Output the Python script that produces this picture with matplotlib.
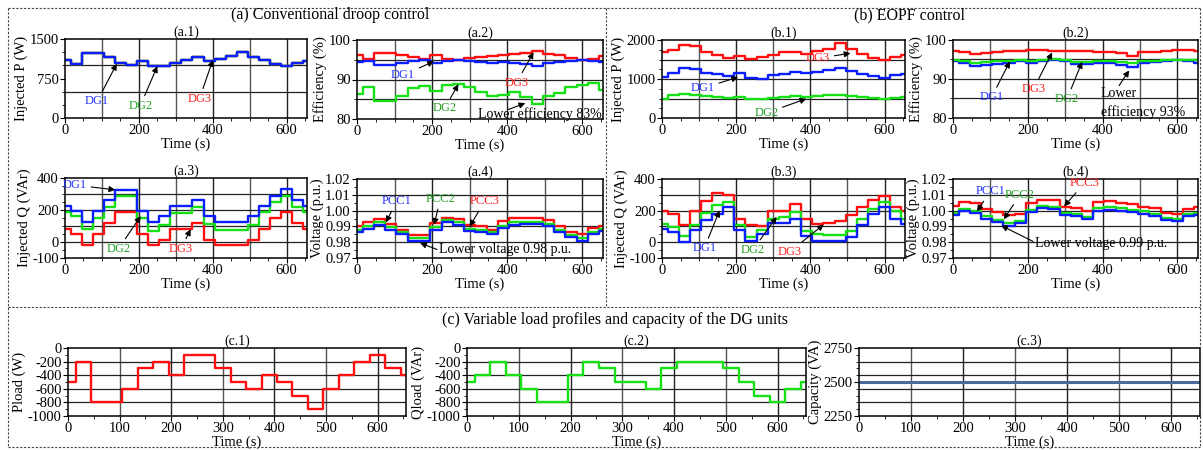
import matplotlib.pyplot as plt
from matplotlib.lines import Line2D

plt.rcParams['font.family'] = ['Liberation Serif', 'DejaVu Serif']
plt.rcParams['font.size'] = 10
plt.rcParams['axes.unicode_minus'] = False

# breakpoints of the step profiles (s)
t = [0, 15, 45, 75, 105, 135, 165, 195, 225, 255, 285, 315, 345, 375,
     405, 435, 465, 495, 525, 555, 585, 615, 645, 660]

# (a) conventional droop control
p_a_dg = [1100, 1030, 1230, 1230, 1150, 1050, 1010, 1080, 980, 980, 1050, 1110,
          1150, 1090, 1120, 1180, 1250, 1150, 1100, 1020, 980, 1050, 1090]
eff_a_dg1 = [94.5, 94.8, 93.6, 93.6, 94.2, 94.7, 95.0, 94.3, 94.8, 95.0, 94.8, 94.5,
             94.3, 94.5, 94.3, 94.0, 93.5, 94.3, 94.5, 94.8, 95.0, 94.8, 94.5]
eff_a_dg2 = [86.4, 88.2, 84.6, 84.6, 85.9, 87.8, 88.3, 87.1, 88.7, 88.8, 88.0, 86.8,
             85.8, 86.0, 86.8, 85.5, 83.8, 85.8, 86.5, 88.0, 88.5, 89.0, 87.3]
eff_a_dg3 = [96.3, 95.3, 96.8, 96.8, 96.3, 95.6, 95.2, 96.1, 95.2, 95.0, 95.5, 95.8,
             96.0, 96.3, 96.5, 96.8, 97.1, 96.5, 96.2, 95.5, 95.0, 95.2, 96.0]
q_a_dg1 = [225, 195, 125, 195, 260, 325, 325, 195, 125, 160, 225, 225,
           260, 160, 125, 125, 125, 160, 225, 290, 330, 260, 225]
q_a_dg2 = [185, 160, 80, 150, 220, 290, 290, 150, 70, 105, 180, 180,
           220, 110, 75, 75, 75, 105, 185, 250, 290, 220, 185]
q_a_dg3 = [80, 50, -20, 50, 120, 190, 190, 50, -20, 15, 80, 80,
           120, 15, -20, -20, -20, 15, 80, 150, 190, 120, 80]
v_a_pcc1 = [0.9865, 0.9885, 0.991, 0.988, 0.985, 0.981, 0.981, 0.988, 0.9925, 0.991, 0.987, 0.9865,
            0.985, 0.989, 0.991, 0.9915, 0.9915, 0.990, 0.9865, 0.983, 0.981, 0.985, 0.987]
v_a_pcc2 = [0.988, 0.990, 0.9925, 0.9895, 0.9865, 0.9825, 0.9825, 0.9895, 0.994, 0.9925, 0.9885, 0.988,
            0.9865, 0.9905, 0.9925, 0.993, 0.993, 0.9915, 0.988, 0.9845, 0.9825, 0.9865, 0.9885]
v_a_pcc3 = [0.990, 0.9925, 0.9945, 0.9915, 0.988, 0.9845, 0.9845, 0.992, 0.9955, 0.9945, 0.991, 0.9905,
            0.988, 0.9935, 0.9955, 0.9955, 0.9955, 0.994, 0.990, 0.9865, 0.985, 0.989, 0.990]

# (b) EOPF control
p_b_dg1 = [1050, 1150, 1270, 1250, 1150, 1120, 1080, 1150, 1030, 1000, 1100, 1130,
           1180, 1150, 1180, 1220, 1280, 1200, 1120, 1080, 1030, 1100, 1130]
p_b_dg2 = [500, 580, 620, 600, 560, 540, 520, 550, 500, 500, 520, 530,
           560, 540, 560, 580, 600, 560, 540, 520, 500, 520, 530]
p_b_dg3 = [1700, 1750, 1870, 1850, 1700, 1620, 1530, 1600, 1520, 1560, 1620, 1680,
           1700, 1650, 1720, 1780, 1920, 1760, 1650, 1550, 1480, 1560, 1620]
eff_b_dg1 = [94.7, 94.2, 93.3, 93.5, 93.8, 94.2, 94.5, 94.0, 94.6, 94.8, 94.5, 93.9,
             93.8, 94.0, 94.0, 93.5, 93.0, 94.0, 94.3, 94.6, 94.8, 94.5, 94.2]
eff_b_dg2 = [94.9, 94.5, 94.0, 94.3, 94.5, 94.6, 94.8, 94.5, 94.9, 95.0, 94.8, 94.4,
             94.4, 94.6, 94.6, 94.3, 94.0, 94.6, 94.7, 94.8, 94.9, 94.9, 94.8]
eff_b_dg3 = [97.3, 97.0, 96.5, 96.6, 97.0, 97.3, 97.3, 97.4, 97.4, 97.3, 97.3, 97.2,
             97.1, 97.0, 96.9, 96.6, 96.0, 96.8, 97.0, 97.3, 97.4, 97.4, 97.2]
q_b_dg1 = [85, 65, 0, 75, 140, 180, 220, 80, 10, 50, 120, 120,
           150, 40, 5, 5, 5, 30, 110, 180, 220, 150, 115]
q_b_dg2 = [115, 95, 40, 110, 185, 235, 255, 110, 35, 75, 150, 160,
           190, 70, 50, 45, 45, 70, 150, 210, 255, 195, 145]
q_b_dg3 = [200, 180, 110, 200, 260, 310, 300, 150, 110, 100, 195, 200,
           240, 150, 115, 120, 135, 170, 220, 270, 290, 220, 200]
v_b_pcc1 = [0.997, 0.9995, 0.9985, 0.995, 0.9925, 0.9905, 0.992, 0.999, 1.0015, 1.001, 0.997, 0.9965,
            0.9945, 1.000, 1.0005, 1.000, 0.999, 0.998, 0.9965, 0.994, 0.9935, 0.9965, 0.997]
v_b_pcc2 = [0.9985, 1.001, 1.000, 0.9965, 0.994, 0.992, 0.9935, 1.0005, 1.003, 1.0025, 0.9985, 0.998,
            0.996, 1.0015, 1.002, 1.0015, 1.0005, 0.9995, 0.998, 0.9955, 0.995, 0.998, 0.9985]
v_b_pcc3 = [1.003, 1.0055, 1.005, 1.001, 0.999, 0.997, 0.998, 1.005, 1.007, 1.0065, 1.002, 1.0015,
            0.9995, 1.0055, 1.006, 1.005, 1.004, 1.0025, 1.0015, 0.9985, 0.998, 1.001, 1.002]

# (c) load profiles and DG capacity
p_load = [-500, -200, -800, -800, -600, -300, -200, -400, -100, -100, -300, -500,
          -600, -400, -500, -700, -900, -600, -400, -200, -100, -300, -400]
q_load = [-500, -400, -200, -400, -600, -800, -800, -400, -200, -300, -500, -500,
          -600, -300, -200, -200, -200, -300, -500, -700, -800, -600, -500]
cap_t = [0, 660]
cap_va = [2500, 2500]

BLUE = '#0a1eff'
GREEN = '#16e016'
RED = '#ff1010'
TXT_BLUE = '#2233ff'
TXT_GREEN = '#22a022'
TXT_RED = '#ff2020'

W, H = 1203, 450
fig = plt.figure(figsize=(W / 100, H / 100), dpi=100)


def make_ax(l, top, r, b):
    return fig.add_axes([l / W, 1 - b / H, (r - l) / W, (b - top) / H])


def steps(ax, y, color, lw=1.7):
    ax.step(t, y + [y[-1]], where='post', color=color, lw=lw)


def style(ax, ylim, yticks, yminor, hlines, ylabel, title, xstep=200):
    ax.set_xlim(0, 655)
    ax.set_ylim(*ylim)
    ax.set_xticks(range(0, 656, xstep))
    ax.set_xticks(range(0, 656, 50), minor=True)
    ax.set_yticks(yticks)
    ax.set_yticks(yminor, minor=True)
    for i, x in enumerate(range(100, 656, 100)):
        ax.axvline(x, color='#222' if i % 2 else '#555', lw=1.0, zorder=0)
    for y in hlines:
        ax.axhline(y, color='#222', lw=0.9, zorder=0)
    ax.tick_params(which='both', direction='out', pad=1, labelsize=10.5)
    ax.tick_params(which='major', length=3.5)
    ax.tick_params(which='minor', length=2)
    for s in ax.spines.values():
        s.set_linewidth(1.1)
    ax.set_xlabel('Time (s)', fontsize=10.5, labelpad=0)
    ax.set_ylabel(ylabel, fontsize=10.5, labelpad=1)
    ax.set_title(title, fontsize=10, pad=2)


def note(ax, text, xy, xytext, color, size=9):
    ax.annotate(text, xy=xy, xytext=xytext, color=color, fontsize=size,
                ha='center', va='center',
                arrowprops=dict(arrowstyle='-|>', color='k', lw=0.8,
                                mutation_scale=9, shrinkA=1, shrinkB=0))


def arrow(ax, xy, xytext):
    ax.annotate('', xy=xy, xytext=xytext,
                arrowprops=dict(arrowstyle='-|>', color='k', lw=0.8,
                                mutation_scale=9, shrinkA=0, shrinkB=0))


# (a.1)
ax = make_ax(65, 39, 307, 118)
steps(ax, p_a_dg, RED)
steps(ax, p_a_dg, GREEN)
steps(ax, p_a_dg, BLUE)
style(ax, (0, 1500), [0, 750, 1500], range(0, 1501, 250), [500, 1000], 'Injected P (W)', '(a.1)')
note(ax, 'DG1', (140, 1030), (87, 316), TXT_BLUE)
note(ax, 'DG2', (250, 985), (204, 234), TXT_GREEN)
note(ax, 'DG3', (400, 1100), (364, 367), TXT_RED)

# (a.2)
ax = make_ax(357, 40, 603, 119)
steps(ax, eff_a_dg3, RED)
steps(ax, eff_a_dg1, BLUE)
steps(ax, eff_a_dg2, GREEN)
style(ax, (80, 100), [80, 90, 100], range(80, 101, 5), [85, 90, 95], 'Efficiency (%)', '(a.2)')
note(ax, 'DG1', (205, 94.6), (123, 91.1), TXT_BLUE)
note(ax, 'DG3', (470, 96.9), (425, 89.2), TXT_RED)
note(ax, 'DG2', (270, 88.8), (233, 82.7), TXT_GREEN)
ax.text(322, 81.3, 'Lower efficiency 83%', fontsize=10, ha='left', va='center')
arrow(ax, (448, 84.0), (403, 82.4))

# (a.3)
ax = make_ax(65, 178, 307, 258)
steps(ax, q_a_dg3, RED)
steps(ax, q_a_dg2, GREEN)
steps(ax, q_a_dg1, BLUE)
style(ax, (-100, 400), [-100, 0, 200, 400], range(-100, 401, 50), [0, 100, 200, 300], 'Injected Q (VAr)', '(a.3)')
note(ax, 'DG1', (136, 326), (27, 356), TXT_BLUE)
note(ax, 'DG2', (205, 162), (145, -42), TXT_GREEN)
note(ax, 'DG3', (340, 80), (314, -42), TXT_RED)

# (a.4)
ax = make_ax(357, 179, 603, 258)
steps(ax, v_a_pcc3, RED)
steps(ax, v_a_pcc2, GREEN)
steps(ax, v_a_pcc1, BLUE)
style(ax, (0.97, 1.02), [0.97, 0.98, 0.99, 1.00, 1.01, 1.02], [0.975, 0.985, 0.995, 1.005, 1.015],
      [0.98, 0.99, 1.00, 1.01], 'Voltage (p.u.)', '(a.4)')
ax.yaxis.set_major_formatter(plt.FormatStrFormatter('%.2f'))
note(ax, 'PCC1', (77, 0.9925), (105, 1.0059), TXT_BLUE)
note(ax, 'PCC2', (205, 0.991), (222, 1.0073), TXT_GREEN)
note(ax, 'PCC3', (300, 0.990), (340, 1.0059), TXT_RED)
ax.text(218, 0.9755, 'Lower voltage 0.98 p.u.', fontsize=10, ha='left', va='center')
arrow(ax, (168, 0.9795), (213, 0.9754))

# (b.1)
ax = make_ax(662, 40, 905, 118)
steps(ax, p_b_dg3, RED)
steps(ax, p_b_dg1, BLUE)
steps(ax, p_b_dg2, GREEN)
style(ax, (0, 2000), [0, 1000, 2000], range(0, 2001, 250), [500, 1000, 1500], 'Injected P (W)', '(b.1)')
note(ax, 'DG3', (508, 1660), (421, 1532), TXT_RED)
note(ax, 'DG1', (205, 1047), (110, 766), TXT_BLUE)
note(ax, 'DG2', (389, 494), (281, 128), TXT_GREEN)

# (b.2)
ax = make_ax(953, 40, 1198, 118)
steps(ax, eff_b_dg3, RED)
steps(ax, eff_b_dg1, BLUE)
steps(ax, eff_b_dg2, GREEN)
style(ax, (80, 100), [80, 90, 100], range(80, 101, 5), [85, 90, 95], 'Efficiency (%)', '(b.2)')
note(ax, 'DG1', (152, 94.5), (103, 85.3), TXT_BLUE)
note(ax, 'DG3', (265, 96.8), (215, 87.4), TXT_RED)
note(ax, 'DG2', (345, 94.4), (305, 84.9), TXT_GREEN)
ax.text(395, 83.8, 'Lower\nefficiency 93%', fontsize=10, ha='left', va='center', linespacing=1.5)
arrow(ax, (471, 92.2), (444, 88.3))

# (b.3)
ax = make_ax(662, 179, 905, 258)
steps(ax, q_b_dg3, RED)
steps(ax, q_b_dg2, GREEN)
steps(ax, q_b_dg1, BLUE)
style(ax, (-100, 400), [-100, 0, 200, 400], range(-100, 401, 50), [0, 100, 200, 300], 'Injected Q (VAr)', '(b.3)')
note(ax, 'DG1', (155, 200), (114, -38), TXT_BLUE)
note(ax, 'DG2', (309, 160), (245, -48), TXT_GREEN)
note(ax, 'DG3', (436, 112), (345, -59), TXT_RED)

# (b.4)
ax = make_ax(953, 179, 1198, 258)
steps(ax, v_b_pcc3, RED)
steps(ax, v_b_pcc2, GREEN)
steps(ax, v_b_pcc1, BLUE)
style(ax, (0.97, 1.02), [0.97, 0.98, 0.99, 1.00, 1.01, 1.02], [0.975, 0.985, 0.995, 1.005, 1.015],
      [0.98, 0.99, 1.00, 1.01], 'Voltage (p.u.)', '(b.4)')
ax.yaxis.set_major_formatter(plt.FormatStrFormatter('%.2f'))
note(ax, 'PCC1', (64, 0.9995), (100, 1.0122), TXT_BLUE)
note(ax, 'PCC2', (136, 0.9945), (179, 1.0101), TXT_GREEN)
note(ax, 'PCC3', (297, 1.0027), (352, 1.0175), TXT_RED)
ax.text(218, 0.9789, 'Lower voltage 0.99 p.u.', fontsize=10, ha='left', va='center')
arrow(ax, (129, 0.9905), (214, 0.9805))

# (c.1)
ax = make_ax(68, 348, 406, 416)
steps(ax, p_load, RED)
style(ax, (-1000, 0), range(-1000, 1, 200), range(-1000, 1, 100), [-200, -400, -600, -800],
      'Pload (W)', '(c.1)', xstep=100)

# (c.2)
ax = make_ax(467, 348, 806, 416)
steps(ax, q_load, GREEN)
style(ax, (-1000, 0), range(-1000, 1, 200), range(-1000, 1, 100), [-200, -400, -600, -800],
      'Qload (VAr)', '(c.2)', xstep=100)

# (c.3)
ax = make_ax(859, 348, 1200, 416)
ax.plot(cap_t, cap_va, color='#4a6a9c', lw=2.2)
style(ax, (2250, 2750), [2250, 2500, 2750], range(2250, 2751, 50), [2350, 2450, 2550, 2650],
      'Capacity (VA)', '(c.3)', xstep=100)

# section titles
fig.text(330 / W, 1 - 15 / H, '(a) Conventional droop control', fontsize=11.5, ha='center', va='center')
fig.text(909 / W, 1 - 15 / H, '(b) EOPF control', fontsize=11.5, ha='center', va='center')
fig.text(615 / W, 1 - 320 / H, '(c) Variable load profiles and capacity of the DG units',
         fontsize=11.5, ha='center', va='center')

# dashed frames around the groups
frame = [((8, 1200), (8, 8)), ((8, 1200), (307, 307)), ((8, 1200), (447, 447)),
         ((8, 8), (8, 447)), ((1200, 1200), (8, 447)), ((606, 606), (8, 307))]
for xs, ys in frame:
    fig.add_artist(Line2D([x / W for x in xs], [1 - y / H for y in ys], color='#444',
                          lw=0.8, ls=(0, (2, 1.5)), transform=fig.transFigure))

fig.savefig('out.png', dpi=100)
